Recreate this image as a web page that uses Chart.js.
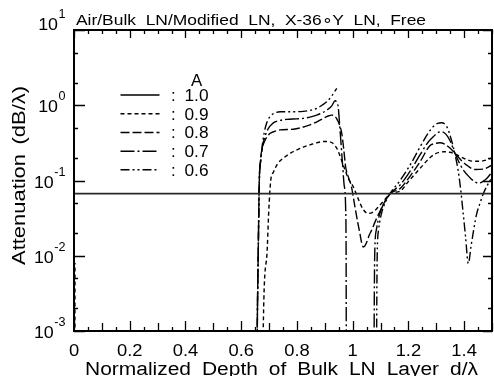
<!DOCTYPE html>
<html>
<head>
<meta charset="utf-8">
<script src="https://cdn.jsdelivr.net/npm/chart.js@4/dist/chart.umd.min.js"></script>
<style>
  html, body { margin: 0; padding: 0; background: #fff; }
  canvas { display: block; }
</style>
</head>
<body>
<canvas id="c" width="494" height="376"></canvas>
<script>
// Attenuation of the leaky wave vs. normalized bulk-LN layer depth d/λ,
// one curve per value of the modification factor A.

// A = 1.0 : modified layer equals bulk LN, attenuation does not depend on d
const depth10 = [0, 1.5];
const atten10 = [0.067, 0.067];

// A = 0.9
const depth09 = [0.003, 0.0035, 0.004,
  0.676, 0.679, 0.692, 0.699, 0.706, 0.716, 0.73, 0.745, 0.76, 0.78, 0.8, 0.825, 0.85, 0.875, 0.9,
  0.915, 0.93, 0.945, 0.955, 0.965, 0.975, 0.988, 1.002, 1.02, 1.038, 1.056, 1.07, 1.086, 1.1, 1.116,
  1.134, 1.17, 1.2, 1.242, 1.277, 1.295, 1.313, 1.33, 1.349, 1.367, 1.39, 1.409, 1.435, 1.457, 1.48, 1.5];
const atten09 = [0.00001, 0.008, null,
  0.00001, 0.001, 0.01, 0.04, 0.1, 0.13, 0.165, 0.19, 0.21, 0.235, 0.255, 0.28, 0.3, 0.32, 0.33,
  0.328, 0.31, 0.26, 0.21, 0.165, 0.13, 0.1, 0.083, 0.057, 0.041, 0.0365, 0.0375, 0.042, 0.048, 0.056,
  0.067, 0.072, 0.097, 0.145, 0.2, 0.225, 0.238, 0.241, 0.237, 0.226, 0.205, 0.19, 0.18, 0.18, 0.187, 0.2];

// A = 0.8
const depth08 = [0.655, 0.6577, 0.661, 0.665, 0.67, 0.677, 0.685, 0.703, 0.72, 0.739, 0.787, 0.82,
  0.847, 0.875, 0.895, 0.912, 0.925, 0.935, 0.943, 0.952, 0.961, 0.968, 0.975, 0.985, 0.995, 1.008,
  1.018, 1.026, 1.032, 1.038, 1.044, 1.05, 1.06, 1.068, 1.08, 1.098, 1.115, 1.134, 1.17, 1.21, 1.242,
  1.277, 1.295, 1.313, 1.33, 1.349, 1.367, 1.39, 1.409, 1.439, 1.47, 1.5];
const atten08 = [0.00001, 0.001, 0.01, 0.1, 0.2, 0.28, 0.34, 0.42, 0.45, 0.47, 0.48, 0.51,
  0.55, 0.61, 0.67, 0.72, 0.74, 0.72, 0.66, 0.56, 0.42, 0.26, 0.15, 0.11, 0.085, 0.045,
  0.028, 0.0197, 0.015, 0.0131, 0.0135, 0.015, 0.019, 0.0218, 0.028, 0.039, 0.052, 0.067, 0.078, 0.12, 0.178,
  0.29, 0.31, 0.318, 0.305, 0.27, 0.23, 0.185, 0.16, 0.14, 0.142, 0.16];

// A = 0.7
const depth07 = [0.655, 0.6577, 0.661, 0.665, 0.67, 0.676, 0.685, 0.697, 0.71, 0.721, 0.74, 0.763,
  0.8, 0.823, 0.85, 0.871, 0.89, 0.907, 0.925, 0.937, 0.944, 0.948, 0.955, 0.962, 0.969, 0.975,
  0.9765, 0.977, 0.978, 1.0,
  1.075, 1.077, 1.079, 1.085, 1.097, 1.115, 1.134, 1.17, 1.21, 1.242, 1.27, 1.289, 1.305, 1.319,
  1.335, 1.349, 1.367, 1.38, 1.397, 1.42, 1.439, 1.451, 1.465, 1.481, 1.5];
const atten07 = [0.00001, 0.001, 0.01, 0.1, 0.18, 0.28, 0.38, 0.49, 0.56, 0.6, 0.63, 0.65,
  0.66, 0.67, 0.7, 0.74, 0.79, 0.86, 0.98, 1.15, 1.08, 0.95, 0.45, 0.2, 0.09, 0.04,
  0.01, 0.001, 0.00001, null,
  0.00001, 0.001, 0.01, 0.022, 0.036, 0.052, 0.067, 0.087, 0.14, 0.22, 0.32, 0.38, 0.43, 0.445,
  0.41, 0.34, 0.23, 0.18, 0.138, 0.11, 0.096, 0.092, 0.096, 0.106, 0.13];

// A = 0.6
const depth06 = [0.655, 0.6577, 0.661, 0.665, 0.67, 0.676, 0.683, 0.69, 0.697, 0.707, 0.72, 0.74,
  0.78, 0.823, 0.85, 0.871, 0.89, 0.907, 0.925, 0.943, 1.0,
  1.084, 1.086, 1.088, 1.093, 1.103, 1.118, 1.134, 1.17, 1.21, 1.242, 1.27, 1.289, 1.305, 1.319,
  1.333, 1.343, 1.352, 1.361, 1.37, 1.378, 1.386, 1.395, 1.405, 1.415, 1.425, 1.435, 1.445, 1.457,
  1.469, 1.482, 1.493, 1.5];
const atten06 = [0.00001, 0.001, 0.01, 0.1, 0.18, 0.3, 0.44, 0.56, 0.65, 0.73, 0.79, 0.82,
  0.82, 0.83, 0.86, 0.91, 1.0, 1.11, 1.33, 1.68, null,
  0.00001, 0.001, 0.01, 0.022, 0.036, 0.052, 0.067, 0.1, 0.17, 0.28, 0.42, 0.52, 0.575, 0.586,
  0.55, 0.47, 0.37, 0.28, 0.2, 0.14, 0.085, 0.042, 0.018, 0.0079, 0.0135, 0.023, 0.036, 0.05,
  0.067, 0.085, 0.1, 0.11];

// Axis tick labels
const xTickValues = [0, 0.2, 0.4, 0.6, 0.8, 1.0, 1.2, 1.4];
const xTickLabels = ['0', '0.2', '0.4', '0.6', '0.8', '1', '1.2', '1.4'];
const yTickExponents = [1, 0, -1, -2, -3];

const titleWords = ['Air/Bulk', 'LN/Modified', 'LN,', 'X-36\u2218Y', 'LN,', 'Free'];
const xTitleWords = ['Normalized', 'Depth', 'of', 'Bulk', 'LN', 'Layer', 'd/\u03bb'];
const yTitleWords = ['Attenuation', '(dB/\u03bb)'];
const legendTitle = 'A';

const FONT = '"Liberation Sans", Arial, Helvetica, sans-serif';

function pairs(xs, ys) {
  return xs.map((x, i) => ({ x: x, y: ys[i] }));
}

function series(label, xs, ys, dash, width, color) {
  return {
    label: label,
    data: pairs(xs, ys),
    borderColor: color || '#000',
    borderWidth: width || 1.4,
    borderDash: dash,
    pointRadius: 0,
    fill: false,
    spanGaps: false,
    cubicInterpolationMode: 'monotone'
  };
}

// Text drawn with a horizontal stretch factor
function drawText(ctx, str, x, y, font, sx, align) {
  ctx.save();
  ctx.font = font;
  const w = ctx.measureText(str).width * sx;
  const x0 = align === 'center' ? x - w / 2 : (align === 'right' ? x - w : x);
  ctx.translate(x0, y);
  ctx.scale(sx, 1);
  ctx.textAlign = 'left';
  ctx.textBaseline = 'alphabetic';
  ctx.fillText(str, 0, 0);
  ctx.restore();
  return w;
}

// Stretch factor that gives a word a wanted width
function stretchFor(ctx, word, font, width) {
  ctx.save();
  ctx.font = font;
  const w = ctx.measureText(word).width;
  ctx.restore();
  return width / w;
}

// Words spread evenly between x0 and x1
function drawSpread(ctx, words, x0, x1, y, font, sx) {
  ctx.save();
  ctx.font = font;
  const widths = words.map(w => ctx.measureText(w).width * sx);
  const total = widths.reduce((a, b) => a + b, 0);
  const gap = words.length > 1 ? (x1 - x0 - total) / (words.length - 1) : 0;
  let x = x0;
  words.forEach((w, i) => {
    drawText(ctx, w, x, y, font, sx, 'left');
    x += widths[i] + gap;
  });
  ctx.restore();
}

const decorations = {
  id: 'decorations',
  afterDraw(chart) {
    const ctx = chart.ctx;
    const a = chart.chartArea;
    const xs = chart.scales.x;
    const ys = chart.scales.y;
    ctx.save();
    ctx.fillStyle = '#000';
    ctx.strokeStyle = '#000';

    // inward ticks on all four sides
    ctx.lineWidth = 1.3;
    ctx.beginPath();
    for (let i = 0; i <= 30; i++) {
      const v = i * 0.05;
      const px = Math.round(xs.getPixelForValue(v)) + 0.5;
      const even2 = i % 4 === 0;
      const even1 = i % 2 === 0;
      const lb = even2 ? 10 : (even1 ? 8 : 4);
      const lt = even2 ? 8 : 4;
      ctx.moveTo(px, a.bottom); ctx.lineTo(px, a.bottom - lb);
      ctx.moveTo(px, a.top); ctx.lineTo(px, a.top + lt);
    }
    for (let e = -3; e <= 1; e++) {
      const base = Math.pow(10, e);
      const py = Math.round(ys.getPixelForValue(base)) + 0.5;
      ctx.moveTo(a.left, py); ctx.lineTo(a.left + 11, py);
      ctx.moveTo(a.right, py); ctx.lineTo(a.right - 9, py);
      if (e < 1) {
        [2, 5].forEach(m => {
          const q = Math.round(ys.getPixelForValue(m * base)) + 0.5;
          ctx.moveTo(a.left, q); ctx.lineTo(a.left + 4, q);
          ctx.moveTo(a.right, q); ctx.lineTo(a.right - 4, q);
        });
      }
    }
    ctx.stroke();

    // frame
    ctx.lineWidth = 2;
    ctx.strokeRect(a.left, a.top, a.right - a.left, a.bottom - a.top);

    // x tick labels
    xTickValues.forEach((v, i) => {
      drawText(ctx, xTickLabels[i], xs.getPixelForValue(v), 355.5, '17px ' + FONT, 1.08, 'center');
    });

    // y tick labels: 10 with superscript exponent
    yTickExponents.forEach(e => {
      const py = ys.getPixelForValue(Math.pow(10, e));
      const sup = String(e);
      ctx.font = '12px ' + FONT;
      const supW = ctx.measureText(sup).width * 1.05;
      ctx.font = '17px ' + FONT;
      const mainW = ctx.measureText('10').width * 1.05;
      const right = 65.5;
      const base = e === 1 ? py : py + 7;
      drawText(ctx, '10', right - supW - mainW - 0.5, base, '17px ' + FONT, 1.05, 'left');
      drawText(ctx, sup, right - supW, base - 12, '12px ' + FONT, 1.05, 'left');
    });

    // titles
    const tFont = '15px ' + FONT;
    drawSpread(ctx, titleWords, 76, 426, 24.5, tFont, stretchFor(ctx, 'Air/Bulk', tFont, 60));
    const xFont = '18px ' + FONT;
    drawSpread(ctx, xTitleWords, 85, 478, 374.5, xFont, stretchFor(ctx, 'Normalized', xFont, 106));
    ctx.save();
    ctx.translate(25, 265);
    ctx.rotate(-Math.PI / 2);
    const yFont = '18px ' + FONT;
    drawSpread(ctx, yTitleWords, 0, 179, 0, yFont, stretchFor(ctx, 'Attenuation', yFont, 111));
    ctx.restore();

    // legend
    drawText(ctx, legendTitle, 196.7, 85.5, '16px ' + FONT, 1.05, 'center');
    const rowY = [95, 113.8, 132.6, 151.2, 169.8];
    chart.data.datasets.forEach((ds, i) => {
      const y = rowY[i];
      ctx.save();
      ctx.strokeStyle = '#000';
      ctx.lineWidth = 1.5;
      ctx.setLineDash(ds.borderDash || []);
      ctx.beginPath();
      ctx.moveTo(120.5, y);
      ctx.lineTo(159.5, y);
      ctx.stroke();
      ctx.restore();
      drawText(ctx, ':', 173.3, y + 5.8, '16px ' + FONT, 1.05, 'center');
      drawText(ctx, ds.label, 184.5, y + 5.8, '16px ' + FONT, 1.08, 'left');
    });

    ctx.restore();
  }
};

new Chart(document.getElementById('c'), {
  type: 'line',
  data: {
    datasets: [
      series('1.0', depth10, atten10, [], 1.8, '#2a2a2a'),
      series('0.9', depth09, atten09, [4, 3]),
      series('0.8', depth08, atten08, [9, 3]),
      series('0.7', depth07, atten07, [14, 3, 2, 3]),
      series('0.6', depth06, atten06, [9, 3, 2, 3, 2, 3])
    ]
  },
  options: {
    responsive: false,
    animation: false,
    devicePixelRatio: 1,
    layout: { padding: { left: 74, top: 30, right: 2, bottom: 45 } },
    plugins: { legend: { display: false }, tooltip: { enabled: false }, title: { display: false } },
    scales: {
      x: { type: 'linear', min: 0, max: 1.5, display: false },
      y: { type: 'logarithmic', min: 0.001, max: 10, display: false }
    }
  },
  plugins: [decorations]
});
</script>
</body>
</html>
